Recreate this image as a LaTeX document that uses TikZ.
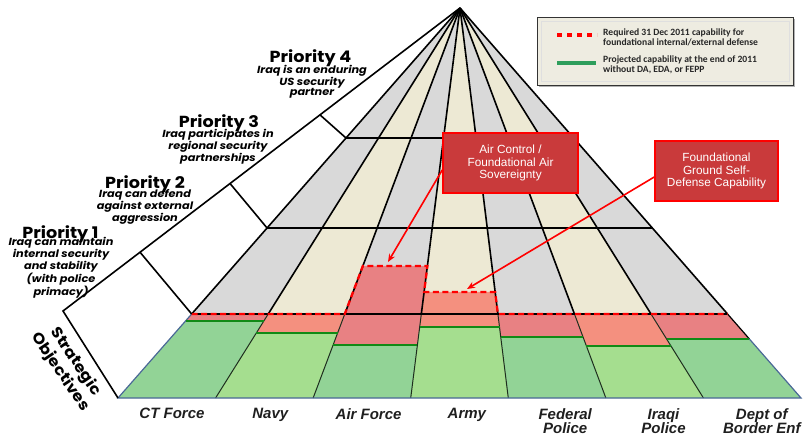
\documentclass[tikz,border=0pt]{standalone}
\usepackage{fontspec}
\setmainfont{Liberation Sans}
\newfontfamily\gothic[FakeStretch=1.1]{Poppins}
\newfontfamily\calib{Carlito}
\usetikzlibrary{calc,arrows.meta}
\definecolor{fgray}{HTML}{D9D9D9}
\definecolor{fbeige}{HTML}{EDE9D4}
\definecolor{gA}{HTML}{92D396}
\definecolor{gB}{HTML}{A5DE8F}
\definecolor{rA}{HTML}{E88183}
\definecolor{rB}{HTML}{F4907F}
\definecolor{gline}{HTML}{118A16}
\definecolor{edgeblue}{HTML}{4A6896}
\definecolor{boxred}{HTML}{C93A3B}
\definecolor{legbg}{HTML}{EEECE1}
\definecolor{leggreen}{HTML}{2E9E5C}
\definecolor{bandline}{HTML}{1E2E1E}
\def\FX#1#2{460+(#1-460)*((#2-8)/390)}
\begin{document}
\begin{tikzpicture}[x=1pt,y=-1pt,
  fanline/.style={black,line width=1.6pt},
  bandsep/.style={bandline,line width=1pt},
  gtop/.style={gline,line width=2.6pt},
  reqline/.style={red,line width=2.3pt,dash pattern=on 6pt off 3.5pt},
  prihead/.style={font=\gothic\bfseries\fontsize{16}{16}\selectfont,inner sep=0pt,anchor=base},
  pridesc/.style={font=\gothic\bfseries\itshape\fontsize{10.3}{10.2}\selectfont,align=center,inner sep=0pt},
  collabel/.style={font=\bfseries\itshape\fontsize{15}{14}\selectfont,align=center,inner sep=0pt,anchor=north,text=black!88},
  redbox/.style={draw=red,line width=1.5pt,fill=boxred,text=white,align=center,
     font=\fontsize{11.8}{12.5}\selectfont,inner sep=0pt},
  redarrow/.style={red,line width=1.6pt,-{Stealth[length=8pt,width=6.5pt]}},
  legtext/.style={font=\calib\bfseries\fontsize{9.6}{10.2}\selectfont,align=left,anchor=west,inner sep=0pt,text=black!85}
]
\useasboundingbox (0,0) rectangle (803,435);
\coordinate (A) at (460,8);
% columns
\foreach \a/\b/\up/\rt/\gt/\rc/\gc in {
  118/215.57/fgray/314/321/rA/gA,
  215.57/313.14/fbeige/314/333/rB/gB,
  313.14/410.71/fgray/266/345/rA/gA,
  410.71/508.29/fbeige/292/327/rB/gB,
  508.29/605.86/fgray/314/337/rA/gA,
  605.86/703.43/fbeige/314/346/rB/gB,
  703.43/801/fgray/314/339/rA/gA}{
  \fill[\up] (A) -- ({\FX{\a}{314}},314) -- ({\FX{\b}{314}},314) -- cycle;
  \fill[\rc] ({\FX{\a}{\rt}},\rt) -- ({\FX{\b}{\rt}},\rt) -- ({\FX{\b}{\gt}},\gt) -- ({\FX{\a}{\gt}},\gt) -- cycle;
  \fill[\gc] ({\FX{\a}{\gt}},\gt) -- ({\FX{\b}{\gt}},\gt) -- (\b,398) -- (\a,398) -- cycle;
}
% band separators
\foreach \a in {215.57,313.14,410.71,508.29,605.86,703.43}{
  \draw[bandsep] ({\FX{\a}{314}},314) -- (\a,398);
}
% fan lines
\foreach \a in {118,215.57,313.14,410.71,508.29,605.86,703.43,801}{
  \draw[fanline] (A) -- ({\FX{\a}{314}},314);
}
\draw[black,line width=1.2pt] ({\FX{801}{314}},314) -- ({\FX{801}{339}},339);
\draw[edgeblue,line width=1.2pt] ({\FX{801}{339}},339) -- (801,398) -- (118,398) -- ({\FX{118}{314}},314);
% horizontal priority lines
\draw[fanline] ({\FX{118}{138}},138) -- ({\FX{801}{138}},138);
\draw[fanline] ({\FX{118}{228}},228) -- ({\FX{801}{228}},228);
\draw[black,line width=1.2pt] ({\FX{118}{314}},314) -- ({\FX{801}{314}},314);
% green capability tops
\foreach \a/\b/\gt in {118/215.57/321,215.57/313.14/333,313.14/410.71/345,410.71/508.29/327,508.29/605.86/337,605.86/703.43/346,703.43/801/339}{
  \draw[gtop] ({\FX{\a}{\gt}},\gt) -- ({\FX{\b}{\gt}},\gt);
}
% required capability
\draw[reqline] ({\FX{118}{314}},314) -- ({\FX{313.14}{314}},314) -- ({\FX{313.14}{266}},266)
  -- ({\FX{410.71}{266}},266) -- ({\FX{410.71}{292}},292) -- ({\FX{508.29}{292}},292)
  -- ({\FX{508.29}{314}},314) -- ({\FX{801}{314}},314);
% left face
\coordinate (C) at (63,311);
\coordinate (B0) at (118,398);
\draw[fanline,line join=miter] (A) -- (C) -- (B0);
\draw[fanline] (140,252.2) -- ({\FX{118}{314}},314);
\draw[fanline] (230,183.5) -- ({\FX{118}{228}},228);
\draw[fanline] (320,114.9) -- ({\FX{118}{138}},138);
% priority labels
\node[prihead] (p4) at (310.5,63) {Priority 4};
\node[pridesc] (p4d) at (312,82) {Iraq is an enduring\\US security\\partner};
\node[prihead] (p3) at (219,128) {Priority 3};
\node[pridesc] (p3d) at (218,147) {Iraq participates in\\regional security\\partnerships};
\node[prihead] (p2) at (145,189) {Priority 2};
\node[pridesc] (p2d) at (145,207) {Iraq can defend\\against external\\aggression};
\node[prihead] (p1) at (60.5,238.5) {Priority 1};
\node[pridesc] (p1d) at (61,267.5) {Iraq can maintain\\internal security\\and stability\\(with police\\primacy)};
\node[font=\gothic\bfseries\fontsize{15}{18.5}\selectfont,align=center,rotate=-56,inner sep=0pt] (so) at (68,367) {Strategic\\Objectives};
% column labels
\node[collabel] (l1) at (172,408) {CT Force};
\node[collabel] (l2) at (270.3,408) {Navy};
\node[collabel] (l3) at (368.6,408) {Air Force};
\node[collabel] (l4) at (466.9,408) {Army};
\node[collabel] (l5) at (565.2,408) {Federal\\Police};
\node[collabel] (l6) at (663.5,408) {Iraqi\\Police};
\node[collabel] (l7) at (761.8,408) {Dept of\\Border Enf};
% callouts
\node[redbox,minimum width=135pt,minimum height=60pt] (air) at (510.5,163) {Air Control /\\Foundational Air\\Sovereignty};
\node[redbox,minimum width=123pt,minimum height=60pt] (ground) at (716.5,171) {Foundational\\Ground Self-\\Defense Capability};
\coordinate (airtip) at (388,262);
\coordinate (groundtip) at (467,289);
\draw[redarrow] ([yshift=-7pt]air.west) -- (airtip);
\draw[redarrow] ([yshift=-6pt]ground.west) -- (groundtip);
% legend
\fill[black!30] (539,19) rectangle (795,87);
\node[draw=black!80,line width=1.2pt,fill=legbg,minimum width=256pt,minimum height=68pt,anchor=north west,inner sep=0pt] (legend) at (537,17) {};
\draw[white!75!gray,line width=0.8pt] (541,21) rectangle (789,81);
\draw[red,line width=4pt,dash pattern=on 5pt off 5pt] (557,35) -- (597,35);
\draw[leggreen,line width=4pt] (557,63) -- (596,63);
\node[legtext] (lt1) at (603,37) {Required 31 Dec 2011 capability for\\foundational internal/external defense};
\node[legtext] (lt2) at (603,65) {Projected capability at the end of 2011\\without DA, EDA, or FEPP};
\end{tikzpicture}
\end{document}
